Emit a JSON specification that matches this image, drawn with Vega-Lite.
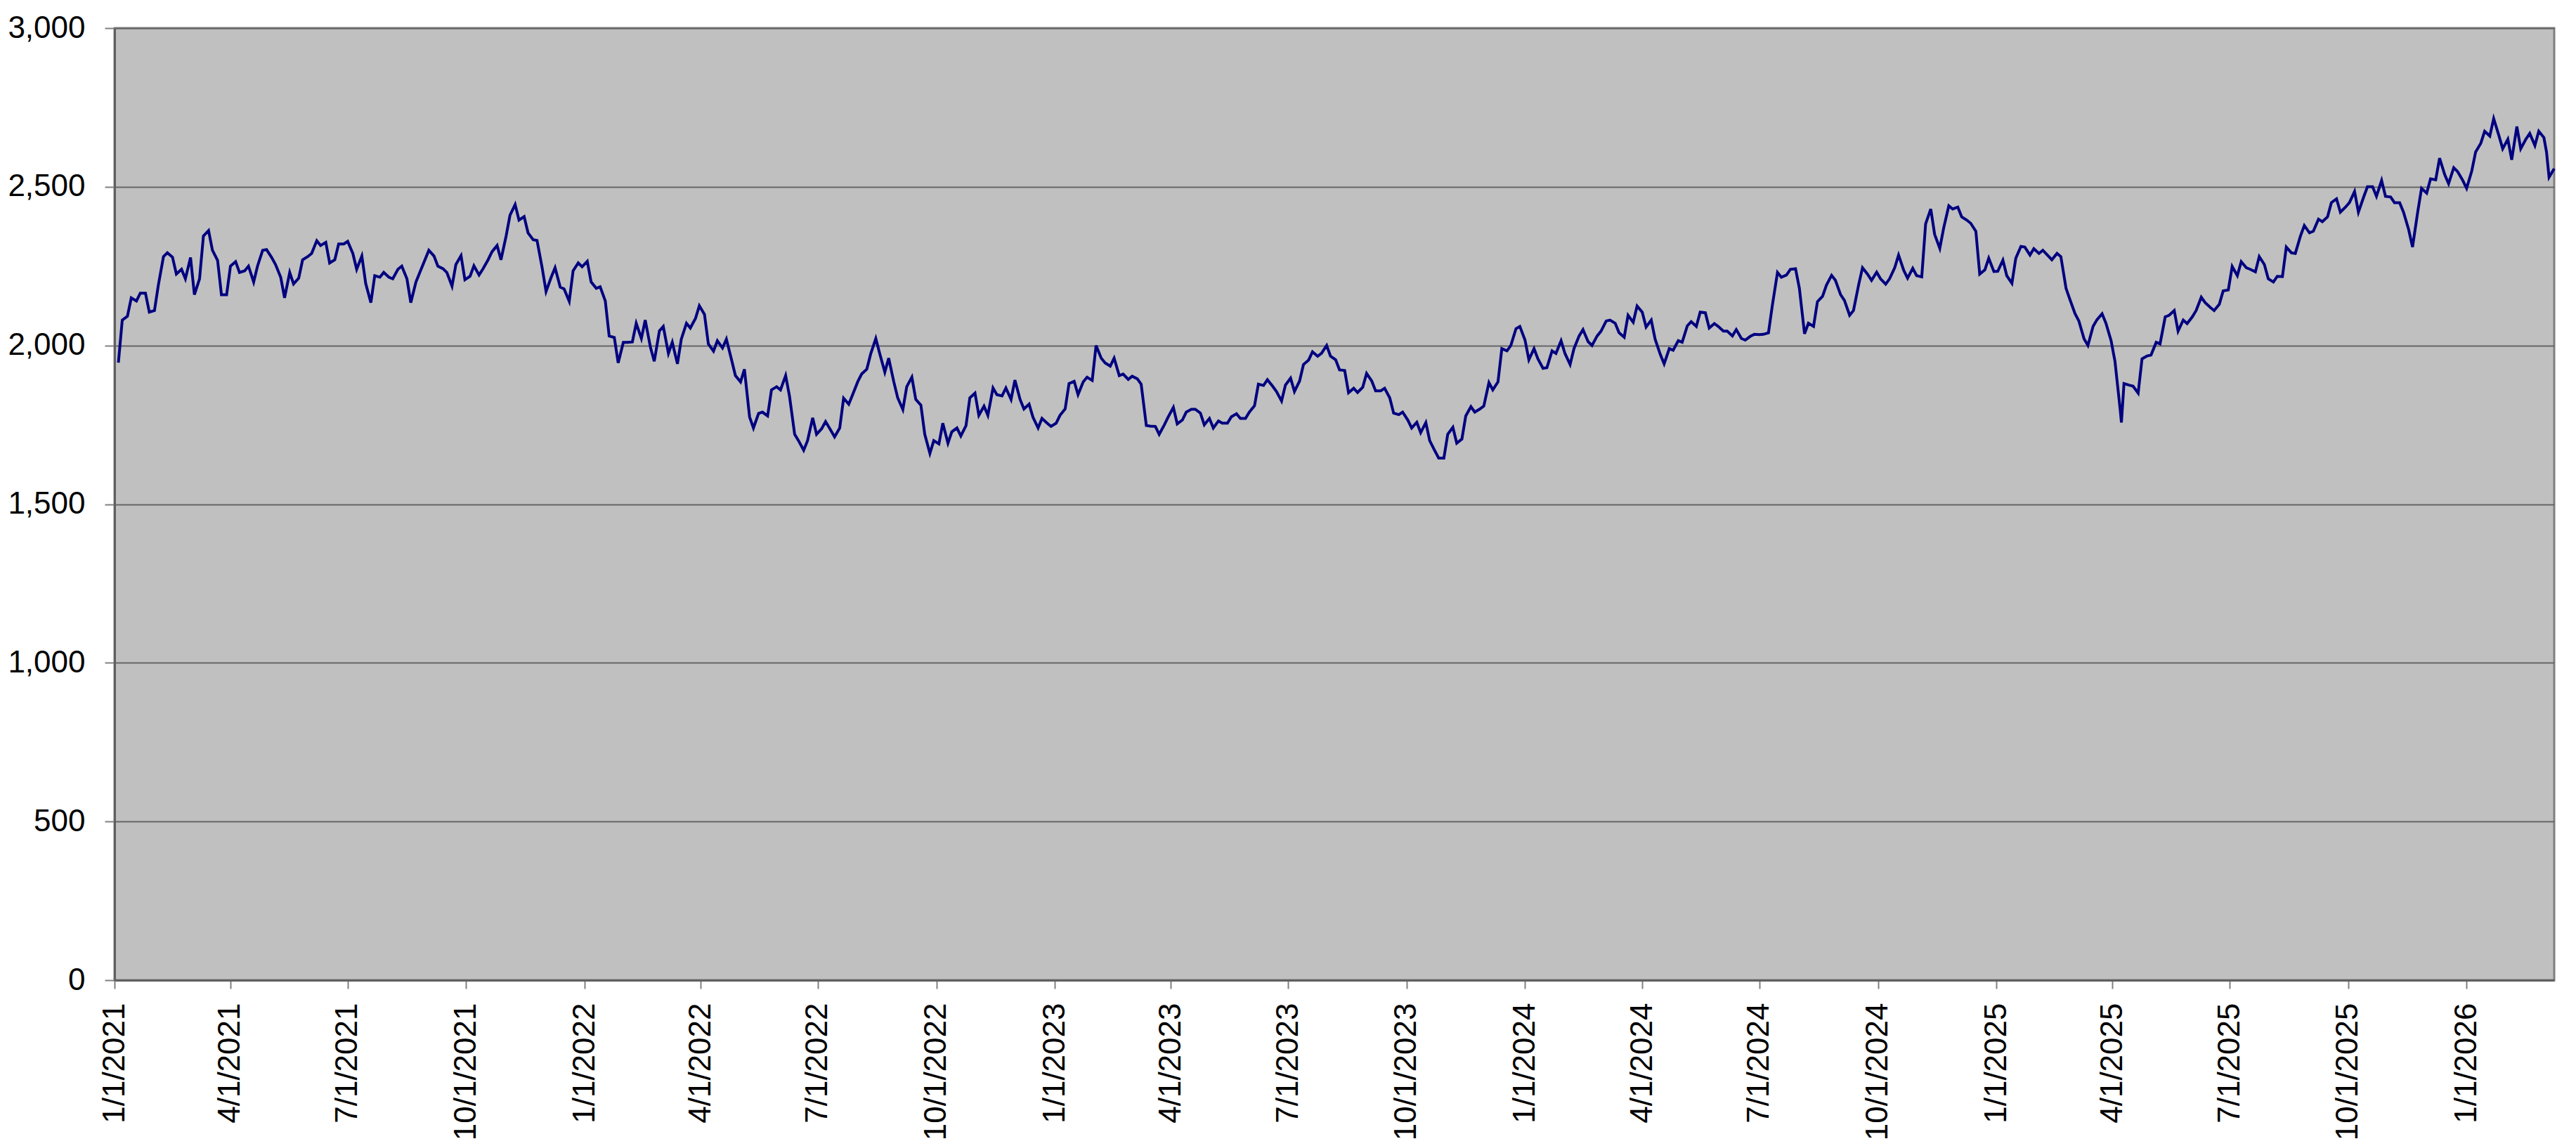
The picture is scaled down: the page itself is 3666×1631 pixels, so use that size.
{
  "$schema": "https://vega.github.io/schema/vega-lite/v6.json",
  "width": 3472,
  "height": 1355,
  "autosize": "none",
  "padding": {"left": 163, "top": 40, "right": 31, "bottom": 236},
  "background": "white",
  "config": {
    "font": "Liberation Sans",
    "view": {"fill": "#c0c0c0", "stroke": "#808080", "strokeWidth": 3}
  },
  "data": {
    "values": [
      {"date": "2021-01-04", "value": 1946}, {"date": "2021-01-07", "value": 2080},
      {"date": "2021-01-11", "value": 2092}, {"date": "2021-01-14", "value": 2150},
      {"date": "2021-01-18", "value": 2140}, {"date": "2021-01-21", "value": 2165},
      {"date": "2021-01-25", "value": 2165}, {"date": "2021-01-28", "value": 2105},
      {"date": "2021-02-01", "value": 2110}, {"date": "2021-02-04", "value": 2190},
      {"date": "2021-02-08", "value": 2280}, {"date": "2021-02-11", "value": 2292},
      {"date": "2021-02-15", "value": 2278}, {"date": "2021-02-18", "value": 2225},
      {"date": "2021-02-22", "value": 2240}, {"date": "2021-02-25", "value": 2210},
      {"date": "2021-03-01", "value": 2277}, {"date": "2021-03-04", "value": 2160},
      {"date": "2021-03-08", "value": 2210}, {"date": "2021-03-11", "value": 2345},
      {"date": "2021-03-15", "value": 2362}, {"date": "2021-03-18", "value": 2300},
      {"date": "2021-03-22", "value": 2268}, {"date": "2021-03-25", "value": 2160},
      {"date": "2021-03-29", "value": 2160}, {"date": "2021-04-01", "value": 2250},
      {"date": "2021-04-05", "value": 2264}, {"date": "2021-04-08", "value": 2230},
      {"date": "2021-04-12", "value": 2235}, {"date": "2021-04-15", "value": 2250},
      {"date": "2021-04-19", "value": 2200}, {"date": "2021-04-22", "value": 2250},
      {"date": "2021-04-26", "value": 2300}, {"date": "2021-04-29", "value": 2302},
      {"date": "2021-05-03", "value": 2277}, {"date": "2021-05-06", "value": 2255},
      {"date": "2021-05-10", "value": 2215}, {"date": "2021-05-13", "value": 2150},
      {"date": "2021-05-17", "value": 2230}, {"date": "2021-05-20", "value": 2194},
      {"date": "2021-05-24", "value": 2212}, {"date": "2021-05-27", "value": 2270},
      {"date": "2021-05-31", "value": 2280}, {"date": "2021-06-03", "value": 2290},
      {"date": "2021-06-07", "value": 2330}, {"date": "2021-06-10", "value": 2315},
      {"date": "2021-06-14", "value": 2325}, {"date": "2021-06-17", "value": 2260},
      {"date": "2021-06-21", "value": 2270}, {"date": "2021-06-24", "value": 2320},
      {"date": "2021-06-28", "value": 2320}, {"date": "2021-07-01", "value": 2328},
      {"date": "2021-07-05", "value": 2290}, {"date": "2021-07-08", "value": 2240},
      {"date": "2021-07-12", "value": 2282}, {"date": "2021-07-15", "value": 2195},
      {"date": "2021-07-19", "value": 2135}, {"date": "2021-07-22", "value": 2220},
      {"date": "2021-07-26", "value": 2215}, {"date": "2021-07-29", "value": 2230},
      {"date": "2021-08-02", "value": 2215}, {"date": "2021-08-05", "value": 2210},
      {"date": "2021-08-09", "value": 2240}, {"date": "2021-08-12", "value": 2250},
      {"date": "2021-08-16", "value": 2210}, {"date": "2021-08-19", "value": 2135},
      {"date": "2021-08-23", "value": 2200}, {"date": "2021-08-26", "value": 2230},
      {"date": "2021-08-30", "value": 2270}, {"date": "2021-09-02", "value": 2300},
      {"date": "2021-09-06", "value": 2282}, {"date": "2021-09-09", "value": 2250},
      {"date": "2021-09-13", "value": 2242}, {"date": "2021-09-16", "value": 2230},
      {"date": "2021-09-20", "value": 2187}, {"date": "2021-09-23", "value": 2255},
      {"date": "2021-09-27", "value": 2283}, {"date": "2021-09-30", "value": 2207},
      {"date": "2021-10-04", "value": 2218}, {"date": "2021-10-07", "value": 2251},
      {"date": "2021-10-11", "value": 2222}, {"date": "2021-10-14", "value": 2241},
      {"date": "2021-10-18", "value": 2270}, {"date": "2021-10-21", "value": 2295},
      {"date": "2021-10-25", "value": 2315}, {"date": "2021-10-28", "value": 2270},
      {"date": "2021-11-01", "value": 2345}, {"date": "2021-11-04", "value": 2410},
      {"date": "2021-11-08", "value": 2444}, {"date": "2021-11-11", "value": 2395},
      {"date": "2021-11-15", "value": 2406}, {"date": "2021-11-18", "value": 2355},
      {"date": "2021-11-22", "value": 2333}, {"date": "2021-11-25", "value": 2331},
      {"date": "2021-11-29", "value": 2244}, {"date": "2021-12-02", "value": 2170},
      {"date": "2021-12-06", "value": 2215}, {"date": "2021-12-09", "value": 2245},
      {"date": "2021-12-13", "value": 2184}, {"date": "2021-12-16", "value": 2178},
      {"date": "2021-12-20", "value": 2139}, {"date": "2021-12-23", "value": 2235},
      {"date": "2021-12-27", "value": 2260}, {"date": "2021-12-30", "value": 2248},
      {"date": "2022-01-03", "value": 2265}, {"date": "2022-01-06", "value": 2200},
      {"date": "2022-01-10", "value": 2180}, {"date": "2022-01-13", "value": 2185},
      {"date": "2022-01-17", "value": 2140}, {"date": "2022-01-20", "value": 2030},
      {"date": "2022-01-24", "value": 2025}, {"date": "2022-01-27", "value": 1945},
      {"date": "2022-01-31", "value": 2010}, {"date": "2022-02-03", "value": 2010},
      {"date": "2022-02-07", "value": 2011}, {"date": "2022-02-10", "value": 2070},
      {"date": "2022-02-14", "value": 2022}, {"date": "2022-02-17", "value": 2080},
      {"date": "2022-02-21", "value": 1995}, {"date": "2022-02-24", "value": 1950},
      {"date": "2022-02-28", "value": 2046}, {"date": "2022-03-03", "value": 2060},
      {"date": "2022-03-07", "value": 1975}, {"date": "2022-03-10", "value": 2010},
      {"date": "2022-03-14", "value": 1942}, {"date": "2022-03-17", "value": 2020},
      {"date": "2022-03-21", "value": 2070}, {"date": "2022-03-24", "value": 2055},
      {"date": "2022-03-28", "value": 2085}, {"date": "2022-03-31", "value": 2125},
      {"date": "2022-04-04", "value": 2098}, {"date": "2022-04-07", "value": 2005},
      {"date": "2022-04-11", "value": 1982}, {"date": "2022-04-14", "value": 2015},
      {"date": "2022-04-18", "value": 1992}, {"date": "2022-04-21", "value": 2020},
      {"date": "2022-04-25", "value": 1955}, {"date": "2022-04-28", "value": 1905},
      {"date": "2022-05-02", "value": 1885}, {"date": "2022-05-05", "value": 1925},
      {"date": "2022-05-09", "value": 1775}, {"date": "2022-05-12", "value": 1740},
      {"date": "2022-05-16", "value": 1786}, {"date": "2022-05-19", "value": 1790},
      {"date": "2022-05-23", "value": 1778}, {"date": "2022-05-26", "value": 1860},
      {"date": "2022-05-30", "value": 1870}, {"date": "2022-06-02", "value": 1860},
      {"date": "2022-06-06", "value": 1905}, {"date": "2022-06-09", "value": 1840},
      {"date": "2022-06-13", "value": 1720}, {"date": "2022-06-16", "value": 1700},
      {"date": "2022-06-20", "value": 1670}, {"date": "2022-06-23", "value": 1700},
      {"date": "2022-06-27", "value": 1772}, {"date": "2022-06-30", "value": 1720},
      {"date": "2022-07-04", "value": 1738}, {"date": "2022-07-07", "value": 1760},
      {"date": "2022-07-11", "value": 1733}, {"date": "2022-07-14", "value": 1712},
      {"date": "2022-07-18", "value": 1740}, {"date": "2022-07-21", "value": 1834},
      {"date": "2022-07-25", "value": 1815}, {"date": "2022-07-28", "value": 1845},
      {"date": "2022-08-01", "value": 1886}, {"date": "2022-08-04", "value": 1910},
      {"date": "2022-08-08", "value": 1925}, {"date": "2022-08-11", "value": 1973},
      {"date": "2022-08-15", "value": 2022}, {"date": "2022-08-18", "value": 1975},
      {"date": "2022-08-22", "value": 1916}, {"date": "2022-08-25", "value": 1960},
      {"date": "2022-08-29", "value": 1885}, {"date": "2022-09-01", "value": 1835},
      {"date": "2022-09-05", "value": 1798}, {"date": "2022-09-08", "value": 1870},
      {"date": "2022-09-12", "value": 1900}, {"date": "2022-09-15", "value": 1830},
      {"date": "2022-09-19", "value": 1812}, {"date": "2022-09-22", "value": 1720},
      {"date": "2022-09-26", "value": 1660}, {"date": "2022-09-29", "value": 1700},
      {"date": "2022-10-03", "value": 1690}, {"date": "2022-10-06", "value": 1755},
      {"date": "2022-10-10", "value": 1692}, {"date": "2022-10-13", "value": 1728},
      {"date": "2022-10-17", "value": 1740}, {"date": "2022-10-20", "value": 1715},
      {"date": "2022-10-24", "value": 1747}, {"date": "2022-10-27", "value": 1835},
      {"date": "2022-10-31", "value": 1850}, {"date": "2022-11-03", "value": 1780},
      {"date": "2022-11-07", "value": 1809}, {"date": "2022-11-10", "value": 1780},
      {"date": "2022-11-14", "value": 1866}, {"date": "2022-11-17", "value": 1845},
      {"date": "2022-11-21", "value": 1841}, {"date": "2022-11-24", "value": 1866},
      {"date": "2022-11-28", "value": 1830}, {"date": "2022-12-01", "value": 1891},
      {"date": "2022-12-05", "value": 1830}, {"date": "2022-12-08", "value": 1800},
      {"date": "2022-12-12", "value": 1815}, {"date": "2022-12-15", "value": 1774},
      {"date": "2022-12-19", "value": 1740}, {"date": "2022-12-22", "value": 1770},
      {"date": "2022-12-26", "value": 1755}, {"date": "2022-12-29", "value": 1745},
      {"date": "2023-01-02", "value": 1755}, {"date": "2023-01-05", "value": 1780},
      {"date": "2023-01-09", "value": 1800}, {"date": "2023-01-12", "value": 1880},
      {"date": "2023-01-16", "value": 1887}, {"date": "2023-01-19", "value": 1845},
      {"date": "2023-01-23", "value": 1885}, {"date": "2023-01-26", "value": 1900},
      {"date": "2023-01-30", "value": 1890}, {"date": "2023-02-02", "value": 2000},
      {"date": "2023-02-06", "value": 1960}, {"date": "2023-02-09", "value": 1945},
      {"date": "2023-02-13", "value": 1935}, {"date": "2023-02-16", "value": 1960},
      {"date": "2023-02-20", "value": 1905}, {"date": "2023-02-23", "value": 1910},
      {"date": "2023-02-27", "value": 1893}, {"date": "2023-03-02", "value": 1903},
      {"date": "2023-03-06", "value": 1895}, {"date": "2023-03-09", "value": 1878},
      {"date": "2023-03-13", "value": 1748}, {"date": "2023-03-16", "value": 1746},
      {"date": "2023-03-20", "value": 1745}, {"date": "2023-03-23", "value": 1720},
      {"date": "2023-03-27", "value": 1750}, {"date": "2023-03-30", "value": 1775},
      {"date": "2023-04-03", "value": 1805}, {"date": "2023-04-06", "value": 1753},
      {"date": "2023-04-10", "value": 1765}, {"date": "2023-04-13", "value": 1790},
      {"date": "2023-04-17", "value": 1799}, {"date": "2023-04-20", "value": 1799},
      {"date": "2023-04-24", "value": 1787}, {"date": "2023-04-27", "value": 1750},
      {"date": "2023-05-01", "value": 1770}, {"date": "2023-05-04", "value": 1740},
      {"date": "2023-05-08", "value": 1762}, {"date": "2023-05-11", "value": 1755},
      {"date": "2023-05-15", "value": 1755}, {"date": "2023-05-18", "value": 1775},
      {"date": "2023-05-22", "value": 1785}, {"date": "2023-05-25", "value": 1770},
      {"date": "2023-05-29", "value": 1770}, {"date": "2023-06-01", "value": 1790},
      {"date": "2023-06-05", "value": 1810}, {"date": "2023-06-08", "value": 1878},
      {"date": "2023-06-12", "value": 1874}, {"date": "2023-06-15", "value": 1892},
      {"date": "2023-06-19", "value": 1872}, {"date": "2023-06-22", "value": 1855},
      {"date": "2023-06-26", "value": 1825}, {"date": "2023-06-29", "value": 1875},
      {"date": "2023-07-03", "value": 1897}, {"date": "2023-07-06", "value": 1855},
      {"date": "2023-07-10", "value": 1888}, {"date": "2023-07-13", "value": 1940},
      {"date": "2023-07-17", "value": 1954}, {"date": "2023-07-20", "value": 1980},
      {"date": "2023-07-24", "value": 1966}, {"date": "2023-07-27", "value": 1975},
      {"date": "2023-07-31", "value": 2000}, {"date": "2023-08-03", "value": 1966},
      {"date": "2023-08-07", "value": 1955}, {"date": "2023-08-10", "value": 1923},
      {"date": "2023-08-14", "value": 1921}, {"date": "2023-08-17", "value": 1851},
      {"date": "2023-08-21", "value": 1865}, {"date": "2023-08-24", "value": 1852},
      {"date": "2023-08-28", "value": 1868}, {"date": "2023-08-31", "value": 1912},
      {"date": "2023-09-04", "value": 1888}, {"date": "2023-09-07", "value": 1857},
      {"date": "2023-09-11", "value": 1857}, {"date": "2023-09-14", "value": 1865},
      {"date": "2023-09-18", "value": 1835}, {"date": "2023-09-21", "value": 1787},
      {"date": "2023-09-25", "value": 1782}, {"date": "2023-09-28", "value": 1790},
      {"date": "2023-10-02", "value": 1765}, {"date": "2023-10-05", "value": 1740},
      {"date": "2023-10-09", "value": 1758}, {"date": "2023-10-12", "value": 1725},
      {"date": "2023-10-16", "value": 1757}, {"date": "2023-10-19", "value": 1700},
      {"date": "2023-10-23", "value": 1668}, {"date": "2023-10-26", "value": 1645},
      {"date": "2023-10-30", "value": 1645}, {"date": "2023-11-02", "value": 1720},
      {"date": "2023-11-06", "value": 1742}, {"date": "2023-11-09", "value": 1692},
      {"date": "2023-11-13", "value": 1705}, {"date": "2023-11-16", "value": 1778},
      {"date": "2023-11-20", "value": 1807}, {"date": "2023-11-23", "value": 1790},
      {"date": "2023-11-27", "value": 1800}, {"date": "2023-11-30", "value": 1809},
      {"date": "2023-12-04", "value": 1883}, {"date": "2023-12-07", "value": 1860},
      {"date": "2023-12-11", "value": 1885}, {"date": "2023-12-14", "value": 1990},
      {"date": "2023-12-18", "value": 1983}, {"date": "2023-12-21", "value": 2000},
      {"date": "2023-12-25", "value": 2053}, {"date": "2023-12-28", "value": 2060},
      {"date": "2024-01-01", "value": 2017}, {"date": "2024-01-04", "value": 1955},
      {"date": "2024-01-08", "value": 1990}, {"date": "2024-01-11", "value": 1958},
      {"date": "2024-01-15", "value": 1928}, {"date": "2024-01-18", "value": 1930},
      {"date": "2024-01-22", "value": 1983}, {"date": "2024-01-25", "value": 1975},
      {"date": "2024-01-29", "value": 2015}, {"date": "2024-02-01", "value": 1975},
      {"date": "2024-02-05", "value": 1940}, {"date": "2024-02-08", "value": 1990},
      {"date": "2024-02-12", "value": 2030}, {"date": "2024-02-15", "value": 2050},
      {"date": "2024-02-19", "value": 2012}, {"date": "2024-02-22", "value": 2000},
      {"date": "2024-02-26", "value": 2030}, {"date": "2024-02-29", "value": 2045},
      {"date": "2024-03-04", "value": 2077}, {"date": "2024-03-07", "value": 2080},
      {"date": "2024-03-11", "value": 2070}, {"date": "2024-03-14", "value": 2040},
      {"date": "2024-03-18", "value": 2026}, {"date": "2024-03-21", "value": 2095},
      {"date": "2024-03-25", "value": 2073}, {"date": "2024-03-28", "value": 2124},
      {"date": "2024-04-01", "value": 2105}, {"date": "2024-04-04", "value": 2058},
      {"date": "2024-04-08", "value": 2080}, {"date": "2024-04-11", "value": 2020},
      {"date": "2024-04-15", "value": 1972}, {"date": "2024-04-18", "value": 1942},
      {"date": "2024-04-22", "value": 1990}, {"date": "2024-04-25", "value": 1985},
      {"date": "2024-04-29", "value": 2015}, {"date": "2024-05-02", "value": 2010},
      {"date": "2024-05-06", "value": 2062}, {"date": "2024-05-09", "value": 2075},
      {"date": "2024-05-13", "value": 2060}, {"date": "2024-05-16", "value": 2105},
      {"date": "2024-05-20", "value": 2103}, {"date": "2024-05-23", "value": 2055},
      {"date": "2024-05-27", "value": 2069}, {"date": "2024-05-30", "value": 2060},
      {"date": "2024-06-03", "value": 2045}, {"date": "2024-06-06", "value": 2045},
      {"date": "2024-06-10", "value": 2030}, {"date": "2024-06-13", "value": 2050},
      {"date": "2024-06-17", "value": 2022}, {"date": "2024-06-20", "value": 2017},
      {"date": "2024-06-24", "value": 2029}, {"date": "2024-06-27", "value": 2035},
      {"date": "2024-07-01", "value": 2034}, {"date": "2024-07-04", "value": 2035},
      {"date": "2024-07-08", "value": 2040}, {"date": "2024-07-11", "value": 2126},
      {"date": "2024-07-15", "value": 2230}, {"date": "2024-07-18", "value": 2215},
      {"date": "2024-07-22", "value": 2222}, {"date": "2024-07-25", "value": 2240},
      {"date": "2024-07-29", "value": 2242}, {"date": "2024-08-01", "value": 2180},
      {"date": "2024-08-05", "value": 2037}, {"date": "2024-08-08", "value": 2070},
      {"date": "2024-08-12", "value": 2060}, {"date": "2024-08-15", "value": 2138},
      {"date": "2024-08-19", "value": 2155}, {"date": "2024-08-22", "value": 2190},
      {"date": "2024-08-26", "value": 2221}, {"date": "2024-08-29", "value": 2205},
      {"date": "2024-09-02", "value": 2160}, {"date": "2024-09-05", "value": 2142},
      {"date": "2024-09-09", "value": 2095}, {"date": "2024-09-12", "value": 2110},
      {"date": "2024-09-16", "value": 2191}, {"date": "2024-09-19", "value": 2245},
      {"date": "2024-09-23", "value": 2224}, {"date": "2024-09-26", "value": 2205},
      {"date": "2024-09-30", "value": 2231}, {"date": "2024-10-03", "value": 2210},
      {"date": "2024-10-07", "value": 2193}, {"date": "2024-10-10", "value": 2210},
      {"date": "2024-10-14", "value": 2245}, {"date": "2024-10-17", "value": 2285},
      {"date": "2024-10-21", "value": 2237}, {"date": "2024-10-24", "value": 2212},
      {"date": "2024-10-28", "value": 2243}, {"date": "2024-10-31", "value": 2220},
      {"date": "2024-11-04", "value": 2216}, {"date": "2024-11-07", "value": 2383},
      {"date": "2024-11-11", "value": 2430}, {"date": "2024-11-14", "value": 2350},
      {"date": "2024-11-18", "value": 2306}, {"date": "2024-11-21", "value": 2370},
      {"date": "2024-11-25", "value": 2440}, {"date": "2024-11-28", "value": 2430},
      {"date": "2024-12-02", "value": 2436}, {"date": "2024-12-05", "value": 2405},
      {"date": "2024-12-09", "value": 2395}, {"date": "2024-12-12", "value": 2385},
      {"date": "2024-12-16", "value": 2360}, {"date": "2024-12-19", "value": 2225},
      {"date": "2024-12-23", "value": 2238}, {"date": "2024-12-26", "value": 2275},
      {"date": "2024-12-30", "value": 2233}, {"date": "2025-01-02", "value": 2234},
      {"date": "2025-01-06", "value": 2269}, {"date": "2025-01-09", "value": 2220},
      {"date": "2025-01-13", "value": 2196}, {"date": "2025-01-16", "value": 2275},
      {"date": "2025-01-20", "value": 2312}, {"date": "2025-01-23", "value": 2310},
      {"date": "2025-01-27", "value": 2285}, {"date": "2025-01-30", "value": 2305},
      {"date": "2025-02-03", "value": 2290}, {"date": "2025-02-06", "value": 2300},
      {"date": "2025-02-10", "value": 2283}, {"date": "2025-02-13", "value": 2270},
      {"date": "2025-02-17", "value": 2290}, {"date": "2025-02-20", "value": 2280},
      {"date": "2025-02-24", "value": 2180}, {"date": "2025-02-27", "value": 2145},
      {"date": "2025-03-03", "value": 2100}, {"date": "2025-03-06", "value": 2077},
      {"date": "2025-03-10", "value": 2021}, {"date": "2025-03-13", "value": 2000},
      {"date": "2025-03-17", "value": 2060}, {"date": "2025-03-20", "value": 2081},
      {"date": "2025-03-24", "value": 2100}, {"date": "2025-03-27", "value": 2070},
      {"date": "2025-03-31", "value": 2015}, {"date": "2025-04-03", "value": 1950},
      {"date": "2025-04-07", "value": 1800}, {"date": "2025-04-08", "value": 1757},
      {"date": "2025-04-10", "value": 1880}, {"date": "2025-04-14", "value": 1875},
      {"date": "2025-04-17", "value": 1872}, {"date": "2025-04-21", "value": 1850},
      {"date": "2025-04-24", "value": 1958}, {"date": "2025-04-28", "value": 1967},
      {"date": "2025-05-01", "value": 1970}, {"date": "2025-05-05", "value": 2010},
      {"date": "2025-05-08", "value": 2005}, {"date": "2025-05-12", "value": 2090},
      {"date": "2025-05-15", "value": 2095}, {"date": "2025-05-19", "value": 2110},
      {"date": "2025-05-22", "value": 2045}, {"date": "2025-05-26", "value": 2080},
      {"date": "2025-05-29", "value": 2069}, {"date": "2025-06-02", "value": 2090},
      {"date": "2025-06-05", "value": 2110}, {"date": "2025-06-09", "value": 2152},
      {"date": "2025-06-12", "value": 2135}, {"date": "2025-06-16", "value": 2120},
      {"date": "2025-06-19", "value": 2110}, {"date": "2025-06-23", "value": 2130},
      {"date": "2025-06-26", "value": 2172}, {"date": "2025-06-30", "value": 2175},
      {"date": "2025-07-03", "value": 2249}, {"date": "2025-07-07", "value": 2220},
      {"date": "2025-07-10", "value": 2264}, {"date": "2025-07-14", "value": 2245},
      {"date": "2025-07-17", "value": 2240}, {"date": "2025-07-21", "value": 2232},
      {"date": "2025-07-24", "value": 2280}, {"date": "2025-07-28", "value": 2255},
      {"date": "2025-07-31", "value": 2210}, {"date": "2025-08-04", "value": 2200},
      {"date": "2025-08-07", "value": 2218}, {"date": "2025-08-11", "value": 2217},
      {"date": "2025-08-14", "value": 2310}, {"date": "2025-08-18", "value": 2292},
      {"date": "2025-08-21", "value": 2290}, {"date": "2025-08-25", "value": 2345},
      {"date": "2025-08-28", "value": 2378}, {"date": "2025-09-01", "value": 2355},
      {"date": "2025-09-04", "value": 2360}, {"date": "2025-09-08", "value": 2398},
      {"date": "2025-09-11", "value": 2390}, {"date": "2025-09-15", "value": 2405},
      {"date": "2025-09-18", "value": 2450}, {"date": "2025-09-22", "value": 2462},
      {"date": "2025-09-25", "value": 2420}, {"date": "2025-09-29", "value": 2436},
      {"date": "2025-10-02", "value": 2450}, {"date": "2025-10-06", "value": 2485},
      {"date": "2025-10-09", "value": 2420}, {"date": "2025-10-13", "value": 2467},
      {"date": "2025-10-16", "value": 2500}, {"date": "2025-10-20", "value": 2500},
      {"date": "2025-10-23", "value": 2470}, {"date": "2025-10-27", "value": 2520},
      {"date": "2025-10-30", "value": 2470}, {"date": "2025-11-03", "value": 2468},
      {"date": "2025-11-06", "value": 2450}, {"date": "2025-11-10", "value": 2450},
      {"date": "2025-11-13", "value": 2420}, {"date": "2025-11-17", "value": 2365},
      {"date": "2025-11-20", "value": 2310}, {"date": "2025-11-24", "value": 2420},
      {"date": "2025-11-27", "value": 2495}, {"date": "2025-12-01", "value": 2480},
      {"date": "2025-12-04", "value": 2525}, {"date": "2025-12-08", "value": 2522},
      {"date": "2025-12-11", "value": 2590}, {"date": "2025-12-15", "value": 2538},
      {"date": "2025-12-18", "value": 2510}, {"date": "2025-12-22", "value": 2560},
      {"date": "2025-12-25", "value": 2548}, {"date": "2025-12-29", "value": 2520},
      {"date": "2026-01-01", "value": 2495}, {"date": "2026-01-05", "value": 2550},
      {"date": "2026-01-08", "value": 2610}, {"date": "2026-01-12", "value": 2637},
      {"date": "2026-01-15", "value": 2675}, {"date": "2026-01-19", "value": 2660},
      {"date": "2026-01-22", "value": 2715}, {"date": "2026-01-26", "value": 2662},
      {"date": "2026-01-29", "value": 2620}, {"date": "2026-02-02", "value": 2650},
      {"date": "2026-02-05", "value": 2585}, {"date": "2026-02-09", "value": 2690},
      {"date": "2026-02-12", "value": 2620}, {"date": "2026-02-16", "value": 2650},
      {"date": "2026-02-19", "value": 2668}, {"date": "2026-02-23", "value": 2630},
      {"date": "2026-02-26", "value": 2675}, {"date": "2026-03-02", "value": 2655},
      {"date": "2026-03-04", "value": 2610}, {"date": "2026-03-06", "value": 2530},
      {"date": "2026-03-10", "value": 2557}
    ]
  },
  "mark": {"type": "line", "color": "#000080", "strokeWidth": 4},
  "encoding": {
    "x": {
      "field": "date",
      "type": "temporal",
      "scale": {
        "type": "utc",
        "nice": false,
        "domain": [
          {"year": 2021, "month": 1, "date": 1, "utc": true},
          {"year": 2026, "month": 3, "date": 10, "utc": true}
        ]
      },
      "axis": {
        "title": null,
        "format": "%-m/%-d/%Y",
        "tickCount": {"interval": "month", "step": 3},
        "labelAngle": -90,
        "labelAlign": "right",
        "labelBaseline": "middle",
        "labelFontSize": 44,
        "labelColor": "black",
        "labelPadding": 20,
        "labelLimit": 0,
        "labelOverlap": false,
        "labelFlush": false,
        "tickSize": 12,
        "tickWidth": 2,
        "tickColor": "#808080",
        "domainColor": "#606060",
        "domainWidth": 3,
        "grid": false
      }
    },
    "y": {
      "field": "value",
      "type": "quantitative",
      "scale": {"domain": [0, 3000], "nice": false},
      "axis": {
        "title": null,
        "values": [0, 500, 1000, 1500, 2000, 2500, 3000],
        "format": ",d",
        "labelFontSize": 44,
        "labelColor": "black",
        "labelPadding": 28,
        "labelLimit": 0,
        "tickSize": 14,
        "tickWidth": 2,
        "tickColor": "#808080",
        "domainColor": "#606060",
        "domainWidth": 3,
        "gridColor": "#666666",
        "gridWidth": 2,
        "gridOpacity": 1
      }
    }
  }
}
